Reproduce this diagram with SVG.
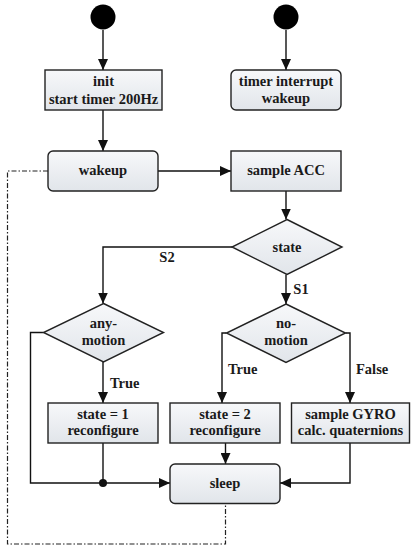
<svg xmlns="http://www.w3.org/2000/svg" width="416" height="550" viewBox="0 0 416 550">
<defs>
<linearGradient id="g" x1="0" y1="0" x2="0" y2="1">
<stop offset="0" stop-color="#f7f8fa"/>
<stop offset="1" stop-color="#e1e5ea"/>
</linearGradient>
<marker id="a" markerUnits="userSpaceOnUse" markerWidth="12" markerHeight="10" refX="11" refY="5" orient="auto">
<path d="M0,0 L11,5 L0,10 Z" fill="#111"/>
</marker>
</defs>
<style>
.box{fill:url(#g);stroke:#222;stroke-width:1.4}
.dia{fill:url(#g);stroke:#222;stroke-width:1.4}
.ln{fill:none;stroke:#111;stroke-width:1.4}
.dd{fill:none;stroke:#222;stroke-width:1.2;stroke-dasharray:5,2,1.5,2}
text{font-family:"Liberation Serif","Times New Roman",serif;font-weight:bold;font-size:14.5px;fill:#1a1a1a;text-anchor:middle}
.l{text-anchor:start}
</style>
<g id="connectors">
<path class="ln" d="M103,30 V70" marker-end="url(#a)"/>
<path class="ln" d="M286,30 V70" marker-end="url(#a)"/>
<path class="ln" d="M103,110 V151" marker-end="url(#a)"/>
<path class="ln" d="M158,171 H231" marker-end="url(#a)"/>
<path class="ln" d="M286,191 V219.5" marker-end="url(#a)"/>
<path class="ln" d="M232,247 H103 V303.5" marker-end="url(#a)"/>
<path class="ln" d="M286,274.5 V304" marker-end="url(#a)"/>
<path class="ln" d="M43.5,332.5 H30.5 V483 H170" marker-end="url(#a)"/>
<path class="ln" d="M103,362 V403" marker-end="url(#a)"/>
<path class="ln" d="M226.5,333 H222 V403" marker-end="url(#a)"/>
<path class="ln" d="M345.5,333 H350 V403" marker-end="url(#a)"/>
<path class="ln" d="M103,443 V483"/>
<circle cx="103" cy="483" r="4" fill="#111"/>
<path class="ln" d="M225.5,443 V464" marker-end="url(#a)"/>
<path class="ln" d="M350,443 V483 H280" marker-end="url(#a)"/>
<path class="dd" d="M48,171 H7.5 V544 H225.5 V503.5"/>
<text x="167" y="262">S2</text>
<text x="301" y="294">S1</text>
<text class="l" x="110" y="388">True</text>
<text class="l" x="228" y="374">True</text>
<text class="l" x="356" y="374">False</text>
</g>
<g id="start1"><circle cx="103" cy="17" r="12.5" fill="#000"/></g>
<g id="start2"><circle cx="286" cy="17" r="12.5" fill="#000"/></g>
<g id="init">
<rect class="box" x="45" y="70" width="117" height="40"/>
<text x="103.5" y="86">init</text>
<text x="103.5" y="103.5">start timer 200Hz</text>
</g>
<g id="timer">
<rect class="box" x="231" y="70" width="110" height="40" rx="5"/>
<text x="286" y="85.5">timer interrupt</text>
<text x="286" y="102.5">wakeup</text>
</g>
<g id="wakeup">
<rect class="box" x="48" y="151" width="110" height="40" rx="5"/>
<text x="103" y="175">wakeup</text>
</g>
<g id="sampleacc">
<rect class="box" x="231" y="151" width="110" height="40"/>
<text x="286" y="174.5">sample ACC</text>
</g>
<g id="state">
<polygon class="dia" points="287,219.5 342,247 287,274.5 232,247"/>
<text x="287" y="252">state</text>
</g>
<g id="anymotion">
<polygon class="dia" points="103.5,303.5 163.5,332.5 103.5,362 43.5,332.5"/>
<text x="103.5" y="328">any-</text>
<text x="103.5" y="345">motion</text>
</g>
<g id="nomotion">
<polygon class="dia" points="286,304 345.5,333 286,362.5 226.5,333"/>
<text x="286" y="328">no-</text>
<text x="286" y="345">motion</text>
</g>
<g id="state1">
<rect class="box" x="48" y="403" width="110" height="40"/>
<text x="103" y="419">state = 1</text>
<text x="103" y="435">reconfigure</text>
</g>
<g id="state2">
<rect class="box" x="170" y="403" width="110" height="40"/>
<text x="225" y="419">state = 2</text>
<text x="225" y="435">reconfigure</text>
</g>
<g id="gyro">
<rect class="box" x="291.5" y="403" width="118" height="40"/>
<text x="350.5" y="419">sample GYRO</text>
<text x="350.5" y="435">calc. quaternions</text>
</g>
<g id="sleep">
<rect class="box" x="170" y="464" width="110" height="39.5" rx="5"/>
<text x="225" y="487.5">sleep</text>
</g>
</svg>
